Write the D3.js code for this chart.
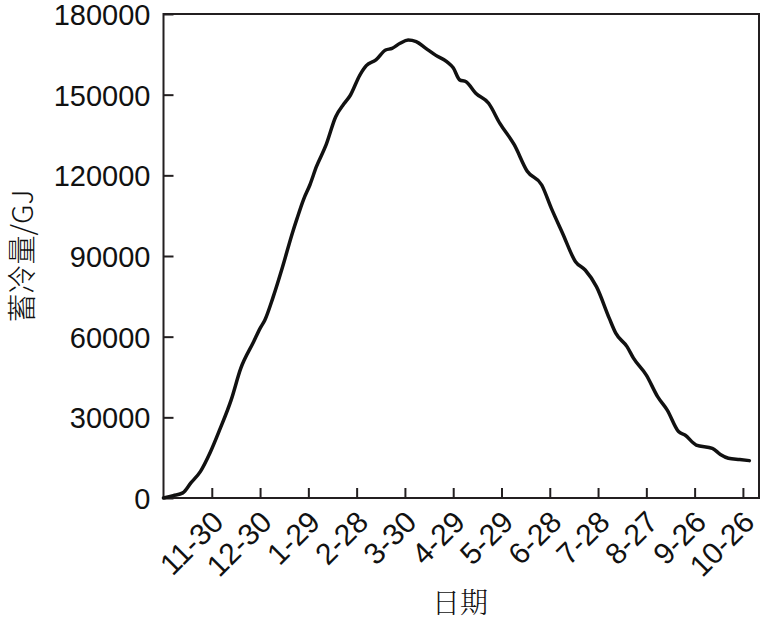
<!DOCTYPE html>
<html><head><meta charset="utf-8">
<script src="https://cdn.jsdelivr.net/npm/d3@7/dist/d3.min.js"></script>
<style>body{margin:0;background:#fff}</style>
</head><body>
<svg id="c" width="765" height="622"></svg>
<script>
const days = [0,6,12,17,23,29,35,42,48,56,60,63,68,74,80,83,87,91,95,101,107,112,116,122,126,132,138,142,147,152,157,163,169,176,180,184,188,194,202,209,218,226,235,241,248,256,262,269,277,281,288,292,300,307,313,320,324,331,341,346,351,358,364];
const values = [0,900,1900,5600,9900,16900,25500,36400,48200,58100,63100,66200,74500,86000,98400,104000,111000,116500,123200,131300,141800,146500,149700,157300,160800,162900,166600,167200,169100,170300,169700,167200,164700,162300,160000,155500,154800,150500,146800,139300,131300,121500,116400,107700,98400,87900,84800,78600,66800,61300,56300,52000,45700,37700,32700,24700,23400,19700,18500,16200,14800,14300,13900];
const tickDays = [30,60,90,120,150,180,210,240,270,300,330,360];
const tickLabels = ["11-30","12-30","1-29","2-28","3-30","4-29","5-29","6-28","7-28","8-27","9-26","10-26"];
const yTicks = [0,30000,60000,90000,120000,150000,180000];

const svg = d3.select("#c");
const L=163.5, R=759, T=14, B=498;
const x = d3.scaleLinear().domain([0,370]).range([L,R]);
const y = d3.scaleLinear().domain([0,180000]).range([B,T]);
const axisColor="#231f20";
const font="'Liberation Sans', Arial, sans-serif";

// frame
svg.append("rect").attr("x",L).attr("y",T).attr("width",R-L).attr("height",B-T)
  .attr("fill","none").attr("stroke",axisColor).attr("stroke-width",2);

// y axis
const ya = svg.append("g").attr("transform",`translate(${L},0)`)
  .call(d3.axisLeft(y).tickValues(yTicks).tickFormat(d=>d).tickSizeInner(-10).tickSizeOuter(0).tickPadding(13));
ya.select(".domain").remove();
ya.selectAll("line").attr("stroke",axisColor).attr("stroke-width",2);
ya.selectAll("text").attr("font-family",font).attr("font-size",29).attr("fill","#111").attr("dy","0.36em");

// x axis
const xa = svg.append("g").attr("transform",`translate(0,${B})`)
  .call(d3.axisBottom(x).tickValues(tickDays).tickFormat((d,i)=>tickLabels[i]).tickSizeInner(-10).tickSizeOuter(0));
xa.select(".domain").remove();
xa.selectAll("line").attr("stroke",axisColor).attr("stroke-width",2);
xa.selectAll("text").attr("font-family",font).attr("font-size",30).attr("fill","#111")
  .attr("text-anchor","end").attr("y",0).attr("dy",0)
  .attr("transform","translate(13,26) rotate(-45)");

// line
const pts = days.map((d,i)=>[d,values[i]]);
svg.append("path").datum(pts)
  .attr("fill","none").attr("stroke","#111").attr("stroke-width",3.5).attr("stroke-linejoin","round").attr("stroke-linecap","round")
  .attr("d", d3.line().x(d=>x(d[0])).y(d=>y(d[1])).curve(d3.curveMonotoneX));

// titles
svg.append("text").attr("x",460).attr("y",613).attr("text-anchor","middle")
  .attr("font-family","'Noto Serif CJK SC','Noto Sans CJK SC', sans-serif").attr("font-weight",300).attr("font-size",28).attr("fill","#111").text("日期");
svg.append("text").attr("transform","translate(33,256) rotate(-90)").attr("text-anchor","middle")
  .attr("font-family","'Noto Sans CJK SC', sans-serif").attr("font-weight",300).attr("font-size",29).attr("fill","#111").text("蓄冷量/GJ");
</script>
</body></html>
